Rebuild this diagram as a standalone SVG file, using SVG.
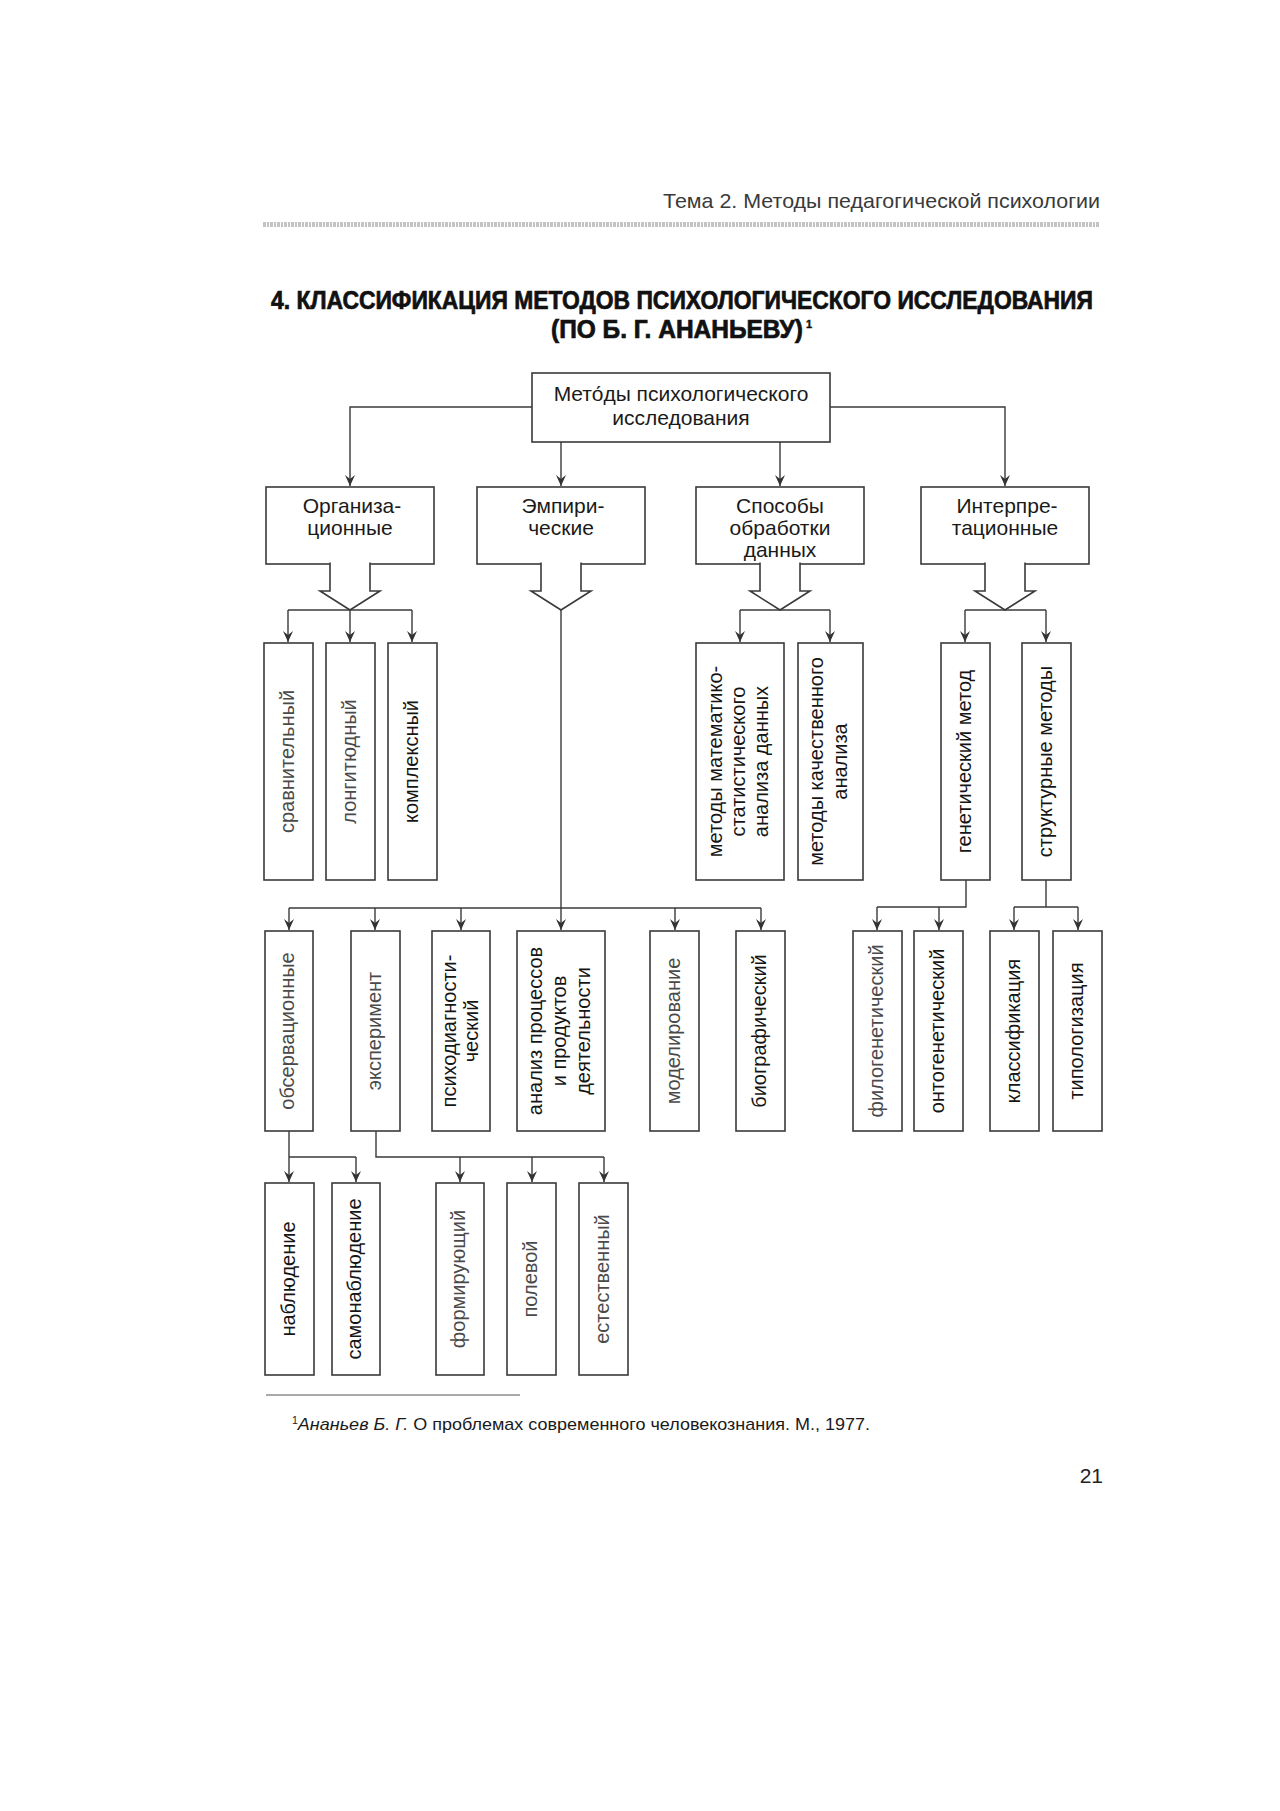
<svg xmlns="http://www.w3.org/2000/svg" width="1280" height="1811" viewBox="0 0 1280 1811">
<defs>
<marker id="ah" viewBox="-12 -6 13 12" refX="0" refY="0" markerWidth="13" markerHeight="12" markerUnits="userSpaceOnUse" orient="auto">
<path d="M0,0 L-11,-5 L-7,0 L-11,5 Z" fill="#333"/>
</marker>
<style>
.box{fill:#fff;stroke:#3a3a3a;stroke-width:1.6}
.ln{fill:none;stroke:#3a3a3a;stroke-width:1.4}
.ar{fill:none;stroke:#3a3a3a;stroke-width:1.4;marker-end:url(#ah)}
.blk{fill:#fff;stroke:#3a3a3a;stroke-width:1.6;stroke-linejoin:miter}
.h{font-family:"Liberation Sans",Arial,sans-serif;font-size:21px;fill:#1a1a1a;text-anchor:middle}
.v{font-family:"Liberation Sans",Arial,sans-serif;font-size:20px;fill:#151515;text-anchor:middle}
.vl{fill:#4a4a4a}
.title{font-family:"Liberation Sans",Arial,sans-serif;font-weight:bold;font-size:25px;fill:#111;stroke:#111;stroke-width:0.7}
</style>
</defs>
<rect width="1280" height="1811" fill="#fff"/>

<g id="page-header">
<text x="663" y="208" font-family="Liberation Sans, Arial, sans-serif" font-size="21" fill="#3a3a3a" textLength="437" lengthAdjust="spacingAndGlyphs">Тема 2. Методы педагогической психологии</text>
<line x1="263" y1="224.5" x2="1100" y2="224.5" stroke="#c4c4c4" stroke-width="5" stroke-dasharray="3 1 2 1"/>
</g>

<g id="title">
<text class="title" x="682" y="309" text-anchor="middle" textLength="822" lengthAdjust="spacingAndGlyphs">4. КЛАССИФИКАЦИЯ МЕТОДОВ ПСИХОЛОГИЧЕСКОГО ИССЛЕДОВАНИЯ</text>
<text class="title" x="551" y="338" textLength="252" lengthAdjust="spacingAndGlyphs">(ПО Б. Г. АНАНЬЕВУ)</text>
<text class="title" x="806" y="328" style="font-size:11px;stroke-width:0.4">1</text>
</g>

<g id="n-root">
<rect class="box" x="532" y="373" width="298" height="69"/>
<text class="h" x="681" y="401">Мето́ды психологического</text>
<text class="h" x="681" y="425">исследования</text>
</g>

<g id="n-org">
<rect class="box" x="266" y="487" width="168" height="77"/>
<text class="h" x="352" y="513">Организа-</text>
<text class="h" x="350" y="535">ционные</text>
</g>
<g id="n-emp">
<rect class="box" x="477" y="487" width="168" height="77"/>
<text class="h" x="563" y="513">Эмпири-</text>
<text class="h" x="561" y="535">ческие</text>
</g>
<g id="n-data">
<rect class="box" x="696" y="487" width="168" height="77"/>
<text class="h" x="780" y="513">Способы</text>
<text class="h" x="780" y="535">обработки</text>
<text class="h" x="780" y="557">данных</text>
</g>
<g id="n-interp">
<rect class="box" x="921" y="487" width="168" height="77"/>
<text class="h" x="1007" y="513">Интерпре-</text>
<text class="h" x="1005" y="535">тационные</text>
</g>

<g id="n-sravn">
<rect class="box" x="264" y="643" width="49" height="237"/>
<text class="v vl" transform="translate(293.5,761.5) rotate(-90)">сравнительный</text>
</g>
<g id="n-longit">
<rect class="box" x="326" y="643" width="49" height="237"/>
<text class="v vl" transform="translate(355.5,761.5) rotate(-90)">лонгитюдный</text>
</g>
<g id="n-kompl">
<rect class="box" x="388" y="643" width="49" height="237"/>
<text class="v" transform="translate(417.5,761.5) rotate(-90)">комплексный</text>
</g>
<g id="n-matstat">
<rect class="box" x="696" y="643" width="88" height="237"/>
<text class="v" transform="translate(722,761.5) rotate(-90)">методы математико-</text>
<text class="v" transform="translate(745,761.5) rotate(-90)">статистического</text>
<text class="v" transform="translate(768,761.5) rotate(-90)">анализа данных</text>
</g>
<g id="n-kach">
<rect class="box" x="798" y="643" width="65" height="237"/>
<text class="v" transform="translate(823,761.5) rotate(-90)">методы качественного</text>
<text class="v" transform="translate(847,761.5) rotate(-90)">анализа</text>
</g>
<g id="n-genet">
<rect class="box" x="941" y="643" width="49" height="237"/>
<text class="v" transform="translate(970.5,761.5) rotate(-90)">генетический метод</text>
</g>
<g id="n-strukt">
<rect class="box" x="1022" y="643" width="49" height="237"/>
<text class="v" transform="translate(1051.5,761.5) rotate(-90)">структурные методы</text>
</g>

<g id="n-observ">
<rect class="box" x="265" y="931" width="48" height="200"/>
<text class="v vl" transform="translate(294,1031) rotate(-90)">обсервационные</text>
</g>
<g id="n-eksper">
<rect class="box" x="351" y="931" width="49" height="200"/>
<text class="v vl" transform="translate(380.5,1031) rotate(-90)">эксперимент</text>
</g>
<g id="n-psihodiag">
<rect class="box" x="432" y="931" width="58" height="200"/>
<text class="v" transform="translate(456,1031) rotate(-90)">психодиагности-</text>
<text class="v" transform="translate(478,1031) rotate(-90)">ческий</text>
</g>
<g id="n-analiz">
<rect class="box" x="517" y="931" width="88" height="200"/>
<text class="v" transform="translate(542,1031) rotate(-90)">анализ процессов</text>
<text class="v" transform="translate(566,1031) rotate(-90)">и продуктов</text>
<text class="v" transform="translate(590,1031) rotate(-90)">деятельности</text>
</g>
<g id="n-model">
<rect class="box" x="650" y="931" width="49" height="200"/>
<text class="v vl" transform="translate(679.5,1031) rotate(-90)">моделирование</text>
</g>
<g id="n-biogr">
<rect class="box" x="736" y="931" width="49" height="200"/>
<text class="v" transform="translate(765.5,1031) rotate(-90)">биографический</text>
</g>
<g id="n-filo">
<rect class="box" x="853" y="931" width="49" height="200"/>
<text class="v vl" transform="translate(882.5,1031) rotate(-90)">филогенетический</text>
</g>
<g id="n-onto">
<rect class="box" x="914" y="931" width="49" height="200"/>
<text class="v" transform="translate(943.5,1031) rotate(-90)">онтогенетический</text>
</g>
<g id="n-klass">
<rect class="box" x="990" y="931" width="49" height="200"/>
<text class="v" transform="translate(1019.5,1031) rotate(-90)">классификация</text>
</g>
<g id="n-tipol">
<rect class="box" x="1053" y="931" width="49" height="200"/>
<text class="v" transform="translate(1082.5,1031) rotate(-90)">типологизация</text>
</g>

<g id="n-nabl">
<rect class="box" x="265" y="1183" width="49" height="192"/>
<text class="v" transform="translate(294.5,1279) rotate(-90)">наблюдение</text>
</g>
<g id="n-samonabl">
<rect class="box" x="332" y="1183" width="48" height="192"/>
<text class="v" transform="translate(361,1279) rotate(-90)">самонаблюдение</text>
</g>
<g id="n-form">
<rect class="box" x="436" y="1183" width="48" height="192"/>
<text class="v vl" transform="translate(465,1279) rotate(-90)">формирующий</text>
</g>
<g id="n-polev">
<rect class="box" x="507" y="1183" width="49" height="192"/>
<text class="v vl" transform="translate(536.5,1279) rotate(-90)">полевой</text>
</g>
<g id="n-estestv">
<rect class="box" x="579" y="1183" width="49" height="192"/>
<text class="v vl" transform="translate(608.5,1279) rotate(-90)">естественный</text>
</g>

<g id="connectors">
<path class="ar" d="M532,407 H350 V486"/>
<path class="ar" d="M830,407 H1005 V486"/>
<path class="ar" d="M561,442 V486"/>
<path class="ar" d="M780,442 V486"/>

<path class="blk" d="M330,562.5 V591 H320 L350,610 L380,591 H370 V562.5"/>
<path class="blk" d="M541,562.5 V591 H531 L561,610 L591,591 H581 V562.5"/>
<path class="blk" d="M760,562.5 V591 H750 L780,610 L810,591 H800 V562.5"/>
<path class="blk" d="M985,562.5 V591 H975 L1005,610 L1035,591 H1025 V562.5"/>

<path class="ln" d="M288,610 H412"/>
<path class="ar" d="M288,610 V642"/>
<path class="ar" d="M350,610 V642"/>
<path class="ar" d="M412,610 V642"/>

<path class="ln" d="M740,610 H830"/>
<path class="ar" d="M740,610 V642"/>
<path class="ar" d="M830,610 V642"/>

<path class="ln" d="M965,610 H1046"/>
<path class="ar" d="M965,610 V642"/>
<path class="ar" d="M1046,610 V642"/>

<path class="ar" d="M561,610 V930"/>
<path class="ln" d="M289,908 H761"/>
<path class="ar" d="M289,908 V930"/>
<path class="ar" d="M375,908 V930"/>
<path class="ar" d="M461,908 V930"/>
<path class="ar" d="M675,908 V930"/>
<path class="ar" d="M761,908 V930"/>

<path class="ln" d="M966,880 V907 H877"/>
<path class="ar" d="M877,907 V930"/>
<path class="ar" d="M939,907 V930"/>

<path class="ln" d="M1046,880 V907"/>
<path class="ln" d="M1014,907 H1078"/>
<path class="ar" d="M1014,907 V930"/>
<path class="ar" d="M1078,907 V930"/>

<path class="ar" d="M289,1131 V1182"/>
<path class="ln" d="M289,1157 H356"/>
<path class="ar" d="M356,1157 V1182"/>

<path class="ln" d="M376,1131 V1157 H604"/>
<path class="ar" d="M460,1157 V1182"/>
<path class="ar" d="M532,1157 V1182"/>
<path class="ar" d="M604,1157 V1182"/>
</g>

<g id="footnote">
<line x1="266" y1="1395" x2="520" y2="1395" stroke="#555" stroke-width="1.2"/>
<text x="292" y="1430" font-family="Liberation Sans, Arial, sans-serif" font-size="17" fill="#1a1a1a" textLength="578" lengthAdjust="spacingAndGlyphs"><tspan font-size="10" dy="-6">1</tspan><tspan dy="6" font-style="italic">Ананьев Б. Г.</tspan> О проблемах современного человекознания. М., 1977.</text>
</g>

<g id="page-number">
<text x="1103" y="1483" text-anchor="end" font-family="Liberation Sans, Arial, sans-serif" font-size="21" fill="#222">21</text>
</g>
</svg>
